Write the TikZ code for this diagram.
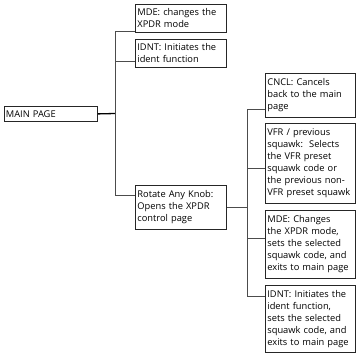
\documentclass[tikz,border=0pt]{standalone}
\usepackage{fontspec}
\setmainfont{Open Sans}
\begin{document}
\begin{tikzpicture}[x=1pt,y=-1pt,
  box/.style={draw=black!85, line width=0.8pt, anchor=north west, align=left,
    inner xsep=2pt, inner ysep=0pt, font=\fontsize{9.3}{12}\selectfont},
  conn/.style={draw=black!70, line width=0.9pt},
  mainconn/.style={draw=black, line width=1.3pt}]
\useasboundingbox (0,0) rectangle (356,357);
% boxes
\node[box, text width=89.5pt, minimum height=15pt] (main) at (3.5,106) {MAIN PAGE};
\node[box, text width=87pt, minimum height=28pt] (mde1) at (135,4) {MDE: changes the\\XPDR mode};
\node[box, text width=87pt, minimum height=28pt] (idnt1) at (135,39) {IDNT: Initiates the\\ident function};
\node[box, text width=87pt, minimum height=44pt] (rot) at (135,185) {Rotate Any Knob:\\Opens the XPDR\\control page};
\node[box, text width=86pt, minimum height=44pt] (cncl) at (265,73) {CNCL: Cancels\\back to the main\\page};
\node[box, text width=86pt, minimum height=80pt] (vfr) at (265,123) {VFR / previous\\squawk:\hspace{1.5pt} Selects\\the VFR preset\\squawk code or\\the previous non-\\\mbox{VFR preset squawk}};
\node[box, text width=86pt, minimum height=68pt] (mde2) at (265,210) {MDE: Changes\\the XPDR mode,\\sets the selected\\squawk code, and\\\mbox{exits to main page}};
\node[box, text width=86pt, minimum height=67pt] (idnt2) at (265,285) {IDNT: Initiates the\\ident function,\\sets the selected\\squawk code, and\\\mbox{exits to main page}};
% junction points
\coordinate (j1) at (115,113.5);
\coordinate (t1a) at (115,31);
\coordinate (t1b) at (115,61);
\coordinate (t1c) at (115,195);
\coordinate (j2) at (247,207);
\coordinate (t2a) at (247,109);
\coordinate (t2b) at (247,168);
\coordinate (t2c) at (247,238);
\coordinate (t2d) at (247,296);
% connectors
\draw[mainconn] (main.east) -- (j1);
\draw[conn] (t1a) -- (t1c);
\draw[conn] (t1a) -- (t1a -| mde1.west);
\draw[conn] (t1b) -- (t1b -| idnt1.west);
\draw[conn] (t1c) -- (t1c -| rot.west);
\draw[conn] (j2 -| rot.east) -- (j2);
\draw[conn] (t2a) -- (t2d);
\draw[conn] (t2a) -- (t2a -| cncl.west);
\draw[conn] (t2b) -- (t2b -| vfr.west);
\draw[conn] (t2c) -- (t2c -| mde2.west);
\draw[conn] (t2d) -- (t2d -| idnt2.west);
\end{tikzpicture}
\end{document}
